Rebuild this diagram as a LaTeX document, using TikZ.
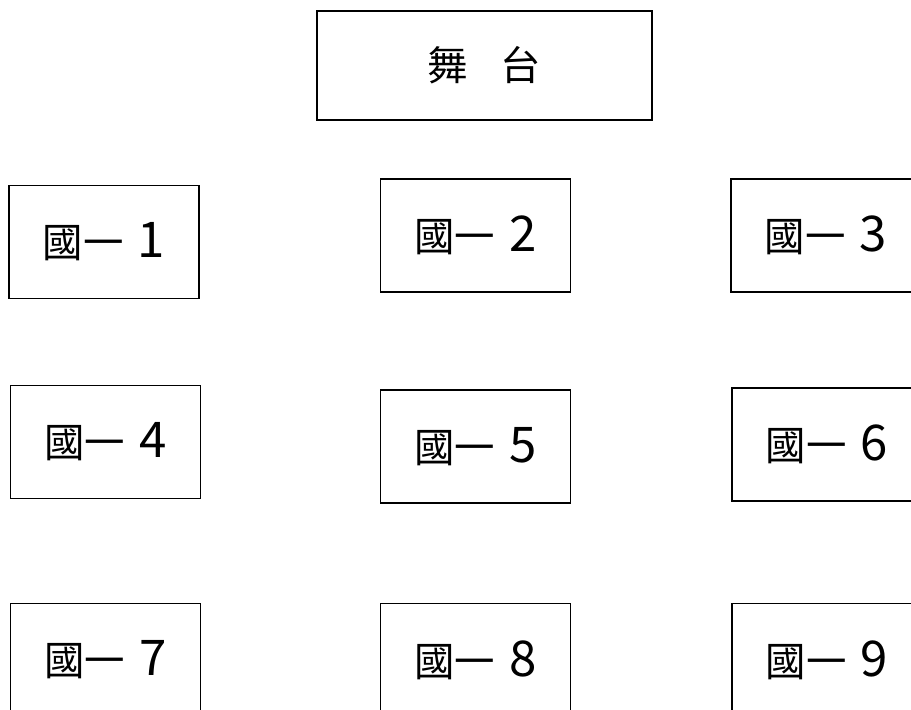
\documentclass[tikz,border=0pt]{standalone}
\usepackage{fontspec}
\newfontfamily\cjk{Noto Sans CJK TC}
\usetikzlibrary{positioning}

\tikzset{seat/.style={minimum width=3.8cm, minimum height=2.26cm}}
\newcommand{\seatno}[1]{國一\hspace{0.35em}{\fontsize{28}{30}\selectfont #1}}

\begin{document}
\begin{tikzpicture}[x=0.02cm, y=-0.02cm, every node/.style={font=\cjk\fontsize{23}{26}\selectfont, draw, line width=1pt, inner sep=0pt}]
\useasboundingbox (0,0) rectangle (911,709);
\node[minimum width=6.7cm, minimum height=2.18cm] (stage) at (484.5,65.5) {舞\hspace{0.8em}台};
\node[seat] (s1) at (104,242) {\seatno{1}};
\node[seat] (s2) at (475.5,235.5) {\seatno{2}};
\node[seat] (s3) at (826,235.5) {\seatno{3}};
\node[seat] (s4) at (105.5,442) {\seatno{4}};
\node[seat] (s5) at (475.5,446.5) {\seatno{5}};
\node[seat] (s6) at (827,444.5) {\seatno{6}};
\node[seat] (s7) at (105.5,660) {\seatno{7}};
\node[seat] (s8) at (475.5,660) {\seatno{8}};
\node[seat] (s9) at (827,660) {\seatno{9}};
\end{tikzpicture}
\end{document}
